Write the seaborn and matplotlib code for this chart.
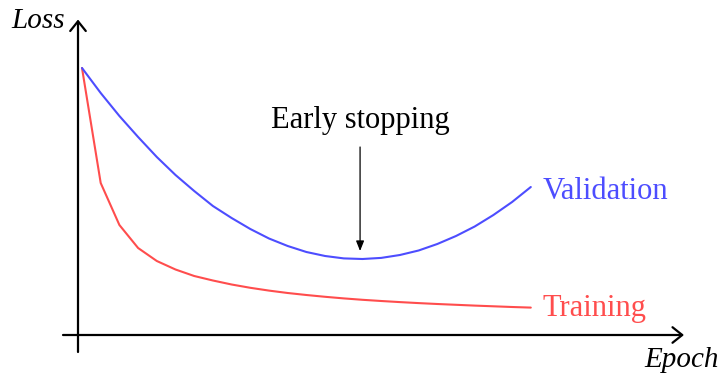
import matplotlib
matplotlib.use("Agg")
import matplotlib.pyplot as plt
import seaborn as sns
import pandas as pd
from matplotlib.patches import FancyArrowPatch

# ---- data ----
epochs = list(range(25))
training = [2.67, 1.52, 1.10, 0.87, 0.74, 0.655, 0.59, 0.545, 0.505, 0.472,
            0.444, 0.42, 0.40, 0.382, 0.366, 0.352, 0.34, 0.329, 0.319, 0.31,
            0.302, 0.294, 0.287, 0.28, 0.274]
validation = [2.67, 2.42, 2.19, 1.98, 1.78, 1.60, 1.44, 1.29, 1.17, 1.06, 0.965,
              0.89, 0.83, 0.79, 0.766, 0.76, 0.771, 0.80, 0.845, 0.91, 0.99,
              1.085, 1.20, 1.33, 1.48]
series_names = ["Training", "Validation"]
annotation_text = "Early stopping"
x_label = "Epoch"
y_label = "Loss"

blue = "#4d4dff"
red = "#ff4d4d"

df = pd.DataFrame({
    "epoch": epochs * 2,
    "loss": training + validation,
    "series": [series_names[0]] * len(epochs) + [series_names[1]] * len(epochs),
})

sns.set_theme(style="white")
plt.rcParams["font.family"] = ["Liberation Serif", "DejaVu Serif"]

fig = plt.figure(figsize=(7.23, 3.78), dpi=100)
ax = fig.add_axes([0, 0, 1, 1])

sns.lineplot(data=df, x="epoch", y="loss", hue="series",
             palette={series_names[0]: red, series_names[1]: blue},
             linewidth=1.5, legend=False, ax=ax, zorder=3)

# pixel-like layout: 18.7 px per epoch, 100 px per loss unit
ax.set_xlim(-82 / 18.7, (723 - 82) / 18.7)
ax.set_ylim((335 - 378) / 100, 335 / 100)
ax.axis("off")

# axes with arrows
x0 = -4 / 18.7
ax.add_patch(FancyArrowPatch((x0, -0.17), (x0, 3.155),
                             arrowstyle="->,head_length=0.35,head_width=0.28",
                             mutation_scale=20, lw=1.6, color="black",
                             shrinkA=0, shrinkB=0, zorder=2))
ax.add_patch(FancyArrowPatch((-19 / 18.7, 0), (602 / 18.7, 0),
                             arrowstyle="->,head_length=0.35,head_width=0.28",
                             mutation_scale=20, lw=1.6, color="black",
                             shrinkA=0, shrinkB=0, zorder=2))

ax.text(x0 - 13 / 18.7, 3.07, y_label, style="italic", fontsize=21,
        ha="right", va="baseline", color="black")
ax.text((719 - 82) / 18.7, -0.32, x_label, style="italic", fontsize=21,
        ha="right", va="baseline", color="black")

# series labels at the ends of the curves
ax.annotate(series_names[1], (epochs[-1], validation[-1]), xytext=(12, -12),
            textcoords="offset pixels", fontsize=22, color=blue,
            ha="left", va="baseline")
ax.annotate(series_names[0], (epochs[-1], training[-1]), xytext=(12, -8),
            textcoords="offset pixels", fontsize=22, color=red,
            ha="left", va="baseline")

# early stopping arrow at the validation minimum
imin = validation.index(min(validation))
xm = epochs[imin] - 0.13
ax.add_patch(FancyArrowPatch((xm, min(validation) + 1.12),
                             (xm, min(validation) + 0.08),
                             arrowstyle="-|>,head_length=0.5,head_width=0.2",
                             mutation_scale=12, lw=0.9, color="black",
                             shrinkA=0, shrinkB=0, zorder=4))
ax.text(xm, min(validation) + 1.31, annotation_text, fontsize=22,
        ha="center", va="baseline", color="black")

fig.savefig("out.png", dpi=100)
